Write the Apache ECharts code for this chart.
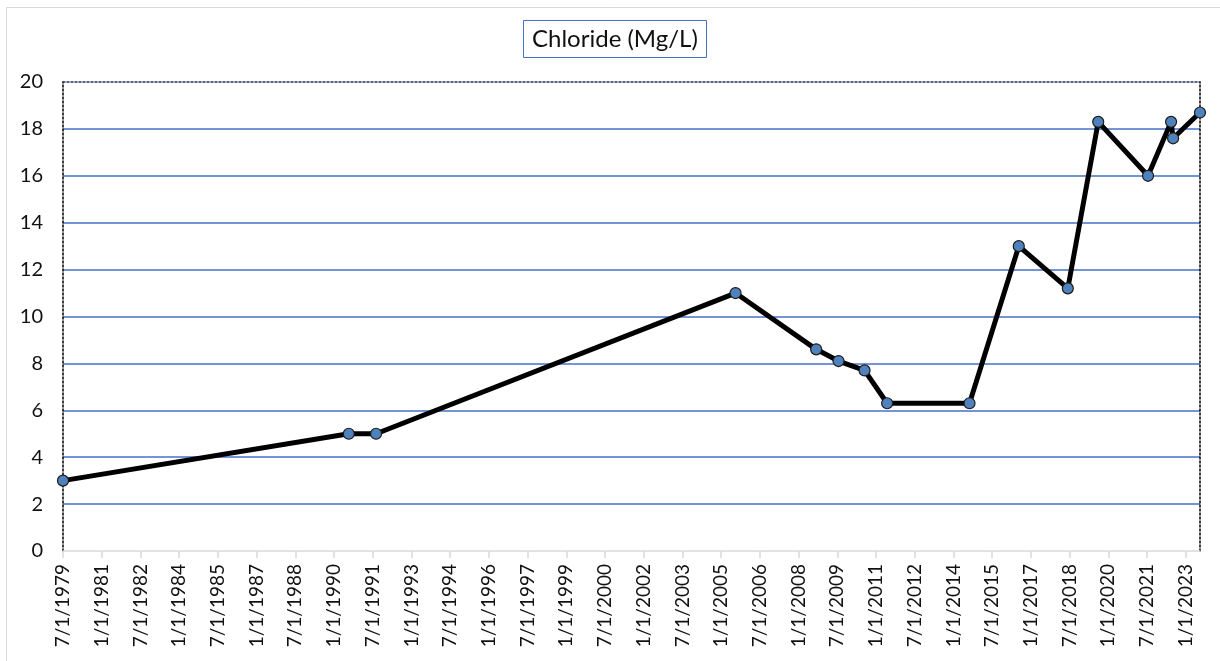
<!DOCTYPE html>
<html>
<head>
<meta charset="utf-8">
<script src="https://cdn.jsdelivr.net/npm/echarts@6/dist/echarts.min.js"></script>
<style>
html,body{margin:0;padding:0;background:#fff;}
#c{width:1220px;height:661px;}
</style>
</head>
<body>
<div id="c"></div>
<script>
// ---- data ----
const sampleDates = ['1979-07-01','1990-07-28','1991-08-18','2005-07-22','2008-09-06','2009-07-18','2010-07-21','2011-06-06','2014-08-15','2016-07-12','2018-06-06','2019-08-10','2021-07-15','2022-06-06','2022-07-04','2023-07-20'];
const chloride = [3.0, 5.0, 5.0, 11.0, 8.6, 8.1, 7.7, 6.3, 6.3, 13.0, 11.2, 18.3, 16.0, 18.3, 17.6, 18.7];
const xTickLabels = ['7/1/1979','1/1/1981','7/1/1982','1/1/1984','7/1/1985','1/1/1987','7/1/1988','1/1/1990','7/1/1991','1/1/1993','7/1/1994','1/1/1996','7/1/1997','1/1/1999','7/1/2000','1/1/2002','7/1/2003','1/1/2005','7/1/2006','1/1/2008','7/1/2009','1/1/2011','7/1/2012','1/1/2014','7/1/2015','1/1/2017','7/1/2018','1/1/2020','7/1/2021','1/1/2023'];
const yTicks = [0,2,4,6,8,10,12,14,16,18,20];

// months elapsed since 7/1/1979 (axis origin)
function monthsFromStart(s){
  const [y,m,d] = s.split('-').map(Number);
  const dim = new Date(y, m, 0).getDate();
  return (y-1979)*12 + (m-7) + (d-1)/dim;
}
const TICK_STEP = 18; // months between tick labels
const xData = sampleDates.map((d,i)=>[monthsFromStart(d), chloride[i]]);
const xMax = xData[xData.length-1][0];
const tickVals = xTickLabels.map((_,i)=>i*TICK_STEP);

const FONT = 'Lato, "Open Sans", sans-serif';
const chart = echarts.init(document.getElementById('c'), null, {renderer:'canvas'});
chart.setOption({
  animation:false,
  backgroundColor:'#fff',
  title:{
    text:'Chloride (Mg/L)',
    left:523, top:20,
    padding:[7,9,7,9],
    borderColor:'#4472C4', borderWidth:1,
    textStyle:{fontFamily:FONT, fontSize:24, fontWeight:'normal', color:'#111'}
  },
  graphic:[{
    type:'rect', silent:true, z:-1,
    shape:{x:6.5,y:7.5,width:1400,height:800},
    style:{fill:null, stroke:'#d9d9d9', lineWidth:1}
  }],
  grid:{left:63, right:20, top:82, bottom:110, containLabel:false},
  xAxis:[{
    type:'value', min:0, max:xMax, interval:TICK_STEP,
    axisLine:{show:true, onZero:false, lineStyle:{color:'#d9d9d9', width:1.5}},
    axisTick:{show:true, length:7, lineStyle:{color:'#d9d9d9', width:1.5}, customValues:tickVals},
    axisLabel:{
      rotate:90, margin:13, fontFamily:FONT, fontSize:19, color:'#111',
      customValues:tickVals,
      formatter:function(v){
        const i = Math.round(v/TICK_STEP);
        if (Math.abs(v - i*TICK_STEP) > 1e-6) return '';
        return xTickLabels[i] || '';
      }
    },
    splitLine:{show:false}
  },{
    type:'value', position:'top', min:0, max:xMax,
    axisLine:{show:true, onZero:false, lineStyle:{color:'#1f2f55', width:1.5, type:[2,2]}},
    axisTick:{show:false}, axisLabel:{show:false}, splitLine:{show:false}
  }],
  yAxis:[{
    type:'value', min:yTicks[0], max:yTicks[yTicks.length-1], interval:2,
    axisLine:{show:true, onZero:false, lineStyle:{color:'#000', width:1.5, type:[2,2]}},
    axisTick:{show:false},
    axisLabel:{margin:20, fontFamily:FONT, fontSize:20, color:'#111'},
    splitLine:{show:true, showMinLine:false, showMaxLine:false, lineStyle:{color:'#4472C4', width:1.5}}
  },{
    type:'value', position:'right', min:yTicks[0], max:yTicks[yTicks.length-1], interval:2,
    axisLine:{show:true, onZero:false, lineStyle:{color:'#000', width:1.5, type:[2,2]}},
    axisTick:{show:false}, axisLabel:{show:false}, splitLine:{show:false}
  }],
  series:[{
    type:'line',
    xAxisIndex:0, yAxisIndex:0,
    data:xData,
    symbol:'circle', symbolSize:11,
    showAllSymbol:true,
    lineStyle:{color:'#000', width:5},
    itemStyle:{color:'#4F81BD', borderColor:'#1a1a1a', borderWidth:1.2},
    z:5
  }]
});
</script>
</body>
</html>
